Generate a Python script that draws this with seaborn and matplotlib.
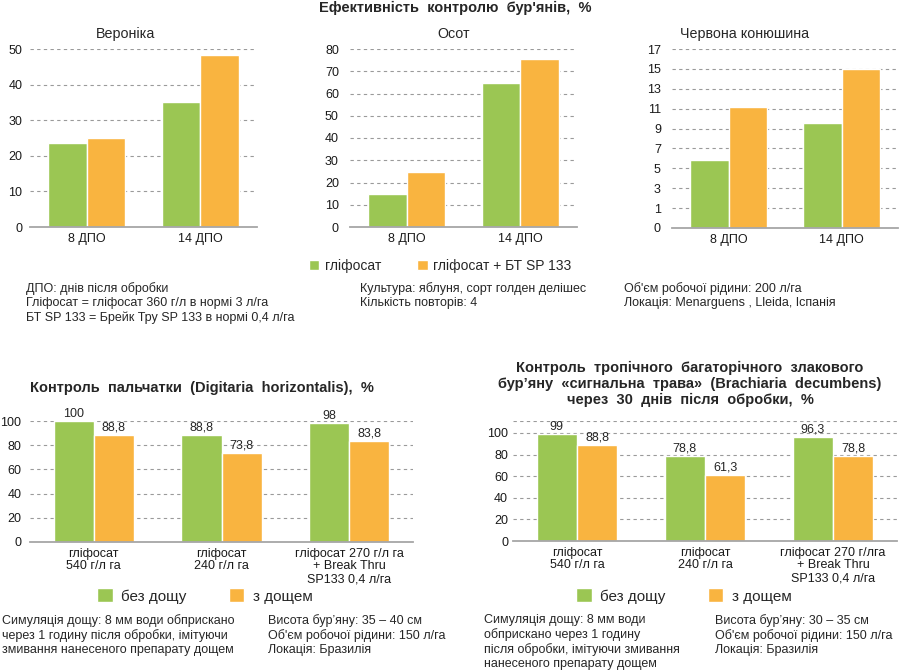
import matplotlib
matplotlib.use('Agg')
import matplotlib.pyplot as plt
import seaborn as sns
import pandas as pd

# --- data ---
top_categories = ['8 ДПО', '14 ДПО']
top_series = ['гліфосат', 'гліфосат + БТ SP 133']
veronika_gly = [23.5, 35.0]
veronika_bt = [25.0, 48.3]
osot_gly = [15.0, 64.5]
osot_bt = [24.5, 75.6]
konyushyna_gly = [5.8, 9.6]
konyushyna_bt = [11.2, 15.0]

rain_series = ['без дощу', 'з дощем']
digitaria_cats = ['гліфосат\n540 г/л га', 'гліфосат\n240 г/л га',
                  'гліфосат 270 г/л га\n+ Break Thru\nSP133 0,4 л/га']
digitaria_no_rain = [100, 88.8, 98]
digitaria_rain = [88.8, 73.8, 83.8]
brachiaria_cats = ['гліфосат\n540 г/л га', 'гліфосат\n240 г/л га',
                   'гліфосат 270 г/лга\n+ Break Thru\nSP133 0,4 л/га']
brachiaria_no_rain = [99, 78.8, 96.3]
brachiaria_rain = [88.8, 61.3, 78.8]

konyushyna_ticks = [-1, 1, 3, 5, 7, 9, 11, 13, 15, 17]
konyushyna_ticklabels = ['0', '1', '3', '5', '7', '9', '11', '13', '15', '17']

GREEN = '#9BC653'
ORANGE = '#F9B440'
GRID = '#9a9a9a'
AXIS = '#a6a6a6'

sns.set_theme(style='white')
plt.rcParams['font.family'] = ['Liberation Sans', 'DejaVu Sans']

W, H = 900, 672
fig = plt.figure(figsize=(9, 6.72), dpi=100)


def px_axes(x0, x1, ytop, ybot):
    return fig.add_axes([x0 / W, 1 - ybot / H, (x1 - x0) / W, (ybot - ytop) / H])


def bars(ax, cats, a, b, names, width, fs, ypad):
    df = pd.DataFrame({'cat': cats * 2, 'val': a + b,
                       'series': [names[0]] * len(cats) + [names[1]] * len(cats)})
    sns.barplot(data=df, x='cat', y='val', hue='series', palette=[GREEN, ORANGE],
                width=width, saturation=1, legend=False, errorbar=None, ax=ax)
    ax.set_xlim(-0.5, len(cats) - 0.5)
    ax.set_xlabel('')
    ax.set_ylabel('')
    for s in ['top', 'right', 'left']:
        ax.spines[s].set_visible(False)
    ax.spines['bottom'].set_color(AXIS)
    ax.spines['bottom'].set_linewidth(1.3)
    ax.set_axisbelow(True)
    ax.grid(axis='y', color=GRID, linestyle=(0, (3, 3)), linewidth=0.8)
    ax.grid(axis='x', visible=False)
    ax.tick_params(axis='both', length=0, labelsize=fs, colors='#1a1a1a')
    ax.tick_params(axis='y', pad=ypad)
    ax.tick_params(axis='x', pad=4)


def fmt(v):
    return f'{v:g}'.replace('.', ',')


# --- top row ---
ax1 = px_axes(30, 257, 49, 227)
bars(ax1, top_categories, veronika_gly, veronika_bt, top_series, 0.68, 9, 5.5)
ax1.set_ylim(0, 50)
ax1.set_yticks(range(0, 51, 10))
ax1.set_title('Вероніка', fontsize=10.3, pad=8, x=0.42)

ax2 = px_axes(350, 577, 49, 227)
bars(ax2, top_categories, osot_gly, osot_bt, top_series, 0.68, 9, 8)
ax2.set_ylim(0, 80)
ax2.set_yticks(range(0, 81, 10))
ax2.set_title('Осот', fontsize=10.3, pad=8, x=0.455)

ax3 = px_axes(672, 898, 49, 228)
bars(ax3, top_categories, konyushyna_gly, konyushyna_bt, top_series, 0.68, 9, 8)
for p in ax3.patches:
    p.set_y(-1)
    p.set_height(p.get_height() + 1)
ax3.set_ylim(-1, 17)
ax3.set_yticks(konyushyna_ticks)
ax3.set_yticklabels(konyushyna_ticklabels)
ax3.set_title('Червона конюшина', fontsize=10.3, pad=8, loc='left', x=0.035)

fig.text(455 / W, 1 - 8 / H, "Ефективність  контролю  бур'янів,  %", ha='center', va='center',
         fontsize=10.5, fontweight='bold')

fig.legend(handles=[ax1.containers[0], ax1.containers[1]], labels=top_series,
           loc='center', bbox_to_anchor=(440 / W, 1 - 266 / H), ncol=2, frameon=False,
           fontsize=10, handlelength=0.75, handleheight=0.75, handletextpad=0.4,
           columnspacing=2.6)

note_fs = 9
fig.text(26 / W, 1 - 282 / H, 'ДПО: днів після обробки\nГліфосат = гліфосат 360 г/л в нормі 3 л/га\n'
         'БТ SP 133 = Брейк Тру SP 133 в нормі 0,4 л/га', va='top', fontsize=note_fs, linespacing=1.22)
fig.text(360 / W, 1 - 282 / H, 'Культура: яблуня, сорт голден делішес\nКількість повторів: 4',
         va='top', fontsize=note_fs, linespacing=1.22)
fig.text(624 / W, 1 - 282 / H, "Об'єм робочої рідини: 200 л/га\nЛокація: Menarguens , Lleida, Іспанія",
         va='top', fontsize=note_fs, linespacing=1.22)

# --- bottom left ---
ax4 = px_axes(30, 413, 421, 542)
bars(ax4, digitaria_cats, digitaria_no_rain, digitaria_rain, rain_series, 0.63, 9, 6.3)
ax4.set_ylim(0, 100)
ax4.set_yticks(range(0, 101, 20))
for c, vals in zip(ax4.containers, [digitaria_no_rain, digitaria_rain]):
    ax4.bar_label(c, labels=[fmt(v) for v in vals], padding=1, fontsize=9, clip_on=False)
for lab in ax4.get_xticklabels():
    lab.set_linespacing(1.1)
fig.text(30 / W, 1 - 388 / H, 'Контроль  пальчатки  (Digitaria  horizontalis),  %', va='center',
         fontsize=10.5, fontweight='bold')
fig.legend(handles=[ax4.containers[0], ax4.containers[1]], labels=rain_series,
           loc='center', bbox_to_anchor=(205 / W, 1 - 596 / H), ncol=2, frameon=False,
           fontsize=11, handlelength=1.0, handleheight=1.0, handletextpad=0.55,
           columnspacing=2.8)
fig.text(2 / W, 1 - 614 / H, 'Симуляція дощу: 8 мм води обприскано\nчерез 1 годину після обробки, імітуючи\n'
         'змивання нанесеного препарату дощем', va='top', fontsize=note_fs, linespacing=1.22)
fig.text(268 / W, 1 - 614 / H, 'Висота бур’яну: 35 – 40 см\nОб\'єм робочої рідини: 150 л/га\nЛокація: Бразилія',
         va='top', fontsize=note_fs, linespacing=1.22)

# --- bottom right ---
ax5 = px_axes(513, 897, 421, 541)
bars(ax5, brachiaria_cats, brachiaria_no_rain, brachiaria_rain, rain_series, 0.63, 9, 3.6)
ax5.set_ylim(0, 111)
ax5.set_yticks(range(0, 101, 20))
ax5.axhline(111, color=GRID, linestyle=(0, (3, 3)), linewidth=0.8, zorder=0)
for c, vals in zip(ax5.containers, [brachiaria_no_rain, brachiaria_rain]):
    ax5.bar_label(c, labels=[fmt(v) for v in vals], padding=1, fontsize=9, clip_on=False)
for lab in ax5.get_xticklabels():
    lab.set_linespacing(1.1)
fig.text(690 / W, 1 - 384 / H, 'Контроль  тропічного  багаторічного  злакового\n'
         'бур’яну  «сигнальна  трава»  (Brachiaria  decumbens)\nчерез  30  днів  після  обробки,  %',
         ha='center', va='center', fontsize=10.5, fontweight='bold', linespacing=1.2)
fig.legend(handles=[ax5.containers[0], ax5.containers[1]], labels=rain_series,
           loc='center', bbox_to_anchor=(684 / W, 1 - 596 / H), ncol=2, frameon=False,
           fontsize=11, handlelength=1.0, handleheight=1.0, handletextpad=0.55,
           columnspacing=2.8)
fig.text(484 / W, 1 - 614 / H, 'Симуляція дощу: 8 мм води\nобприскано через 1 годину\n'
         'після обробки, імітуючи змивання\nнанесеного препарату дощем', va='top',
         fontsize=note_fs, linespacing=1.22)
fig.text(715 / W, 1 - 614 / H, 'Висота бур’яну: 30 – 35 см\nОб\'єм робочої рідини: 150 л/га\nЛокація: Бразилія',
         va='top', fontsize=note_fs, linespacing=1.22)

fig.savefig('out.png', dpi=100)
